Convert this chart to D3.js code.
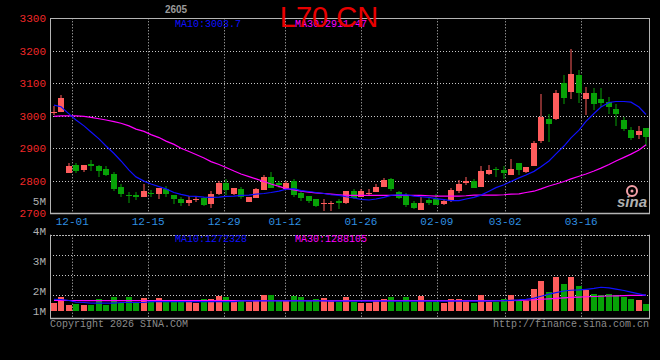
<!DOCTYPE html>
<html>
<head>
<meta charset="utf-8">
<script src="https://cdn.jsdelivr.net/npm/d3@7"></script>
<style>
  body { margin: 0; background: #000; }
  svg { display: block; background: #000; }
  text { font-family: "Liberation Mono", "DejaVu Sans Mono", monospace; font-size: 10px; }
</style>
</head>
<body>
<svg id="chart" width="660" height="360"></svg>
<script>
/* global d3 */

// trading days shown (MM-DD)
const dates = [
  '11-26','11-27','11-28',
  '12-01','12-02','12-03','12-04','12-05','12-08','12-09','12-10','12-11','12-12',
  '12-15','12-16','12-17','12-18','12-19','12-22','12-23','12-24','12-25','12-26',
  '12-29','12-30','12-31',
  '01-05','01-06','01-07','01-08','01-09','01-12','01-13','01-14','01-15','01-16',
  '01-19','01-20','01-21','01-22','01-23','01-26','01-27','01-28','01-29','01-30',
  '02-02','02-03','02-04','02-05','02-06','02-09','02-10','02-11','02-12','02-13',
  '02-24','02-25','02-26','02-27',
  '03-02','03-03','03-04','03-05','03-06','03-09','03-10','03-11','03-12','03-13',
  '03-16','03-17','03-18','03-19','03-20','03-23','03-24','03-25','03-26','03-27'
];

const open = [
  3011,3013,2825,2850,2835,2851,2845,2835,2821,2781,
  2755,2756,2750,2762,2762,2774,2756,2744,2733,2743,
  2746,2727,2757,2794,2761,2776,2735,2747,2772,2813,
  2792,2776,2799,2761,2753,2745,2730,2729,2737,2733,
  2770,2753,2763,2766,2782,2806,2766,2755,2733,2710,
  2741,2745,2727,2739,2768,2794,2800,2780,2821,2835,
  2833,2819,2854,2827,2846,2923,2989,2991,3100,3073,
  3127,3053,3069,3051,3043,3020,2987,2956,2942,2963
];
const high = [
  3030,3064,2856,2856,2849,2864,2848,2845,2828,2790,
  2767,2767,2790,2772,2779,2784,2756,2749,2753,2749,
  2749,2768,2798,2806,2778,2780,2751,2778,2817,2827,
  2799,2799,2805,2765,2753,2745,2745,2739,2743,2770,
  2776,2776,2774,2790,2809,2809,2768,2762,2739,2749,
  2747,2758,2743,2778,2803,2811,2806,2845,2848,2843,
  2846,2868,2856,2843,2923,3067,3006,3079,3127,3206,
  3141,3090,3086,3086,3057,3036,2995,2965,2969,2963
];
const low = [
  3001,3012,2825,2825,2828,2830,2811,2816,2768,2751,
  2733,2741,2749,2749,2745,2749,2729,2723,2723,2735,
  2722,2716,2757,2757,2755,2745,2735,2747,2772,2778,
  2778,2774,2751,2739,2731,2718,2708,2708,2712,2729,
  2743,2753,2755,2766,2782,2770,2743,2718,2712,2710,
  2726,2726,2727,2735,2763,2788,2778,2780,2817,2813,
  2805,2819,2817,2823,2846,2917,2919,2987,3036,3053,
  3040,3002,3018,3028,3006,2969,2954,2926,2930,2907
];
const close = [
  3013,3056,2845,2833,2849,2846,2831,2818,2775,2759,
  2751,2749,2769,2759,2779,2759,2744,2733,2741,2744,
  2726,2759,2792,2772,2778,2751,2751,2776,2813,2780,
  2786,2793,2757,2747,2737,2723,2732,2733,2731,2770,
  2749,2770,2764,2782,2802,2774,2747,2723,2719,2733,
  2733,2726,2737,2772,2790,2800,2778,2829,2833,2831,
  2823,2837,2831,2843,2917,2997,2973,3071,3053,3129,
  3071,3071,3034,3040,3028,3006,2960,2930,2954,2936
];

// volume, millions
const volume = [
  0.66,1.14,0.50,0.56,0.50,0.50,0.97,0.50,1.14,0.66,
  1.14,0.66,1.06,0.78,1.06,0.78,0.78,0.78,0.89,0.66,
  0.97,0.97,1.22,1.14,0.89,0.89,0.72,0.78,1.31,1.31,
  0.89,0.89,1.22,1.14,0.89,0.97,1.06,0.89,0.75,1.14,
  0.75,0.64,0.64,0.81,0.97,1.14,0.75,1.14,0.75,1.22,
  0.75,0.75,0.64,0.97,0.97,0.89,0.64,1.31,0.75,0.75,
  0.97,1.31,0.81,0.81,1.80,2.47,1.55,2.80,2.22,2.80,
  2.05,1.75,1.39,1.31,1.39,1.31,1.14,0.97,0.89,0.56
];

const ma10 = [
  3033,3028,3006,2987,2969,2950,2929,2907,2884,2861,
  2833,2812,2799,2790,2782,2775,2764,2758,2753,2752,
  2750,2749,2750,2752,2753,2755,2756,2759,2761,2764,
  2768,2774,2776,2770,2767,2764,2761,2757,2755,2751,
  2747,2743,2741,2744,2749,2755,2757,2757,2753,2751,
  2749,2745,2742,2739,2739,2744,2749,2756,2768,2779,
  2788,2798,2809,2818,2829,2843,2861,2883,2907,2932,
  2956,2983,3007,3027,3041,3044,3044,3042,3027,3004
];
const ma30 = [
  2998,3000,3000,3000,2998,2995,2991,2987,2982,2977,
  2969,2959,2952,2942,2933,2922,2912,2900,2890,2881,
  2870,2859,2850,2841,2830,2821,2813,2806,2798,2790,
  2783,2776,2772,2768,2765,2763,2761,2759,2757,2755,
  2755,2755,2755,2755,2755,2755,2755,2755,2755,2755,
  2754,2753,2753,2753,2753,2754,2756,2756,2756,2756,
  2757,2759,2760,2764,2768,2775,2784,2790,2798,2806,
  2814,2821,2830,2839,2850,2861,2872,2882,2895,2911
];

const volMa10 = [
  0.95,0.93,0.85,0.72,0.68,0.63,0.63,0.63,0.63,0.68,
  0.68,0.68,0.68,0.76,0.76,0.76,0.76,0.76,0.76,0.76,
  0.76,0.76,0.76,0.76,0.76,0.82,0.82,0.82,0.82,0.82,
  0.82,0.82,0.82,0.82,0.82,0.82,0.82,0.80,0.80,0.80,
  0.80,0.80,0.80,0.80,0.80,0.80,0.80,0.80,0.80,0.80,
  0.80,0.80,0.80,0.80,0.80,0.80,0.80,0.80,0.80,0.82,
  0.83,0.86,0.90,0.95,1.05,1.20,1.38,1.50,1.64,1.70,
  1.73,1.78,1.85,1.95,1.90,1.80,1.68,1.55,1.40,1.27
];
const volMa30 = [
  0.86,0.86,0.85,0.85,0.84,0.84,0.83,0.83,0.83,0.83,
  0.83,0.83,0.83,0.83,0.83,0.83,0.83,0.83,0.83,0.83,
  0.83,0.83,0.83,0.83,0.83,0.83,0.83,0.83,0.83,0.83,
  0.83,0.83,0.83,0.83,0.83,0.83,0.83,0.83,0.83,0.83,
  0.83,0.83,0.83,0.83,0.83,0.83,0.83,0.83,0.83,0.83,
  0.83,0.83,0.83,0.83,0.83,0.83,0.83,0.83,0.83,0.83,
  0.83,0.84,0.86,0.88,0.91,0.95,0.99,1.03,1.07,1.10,
  1.13,1.16,1.18,1.20,1.22,1.24,1.25,1.27,1.28,1.29
];

// legend readouts as printed on the chart
const priceLegend = ['MA10:3003.7', 'MA30:2911.47'];
const volLegend = ['MA10:1272328', 'MA30:1288105'];

const tickDates = ['12-01','12-15','12-29','01-12','01-26','02-09','03-02','03-16'];
const priceTicks = [2700, 2800, 2900, 3000, 3100, 3200, 3300];
const volTicks = [1, 2, 3, 4, 5];

const PRICE = {left: 50, right: 650, top: 18.3, bottom: 213.3};
const VOL = {top: 234.7, bottom: 318.3, base: 310.7};
const VOL_GRID = [255.3, 275.3, 295.3];

const UP = '#ff5c5c';
const DOWN = '#07a107';
const GRID = '#c8c8c8';
const BORDER = '#b4b4b4';
const MA10_COL = '#1010ff';
const MA30_COL = '#ff00ff';

const $svg = d3.select('#chart');
const n = dates.length;

const x = d3.scaleBand()
  .domain(d3.range(n))
  .range([PRICE.left, PRICE.right])
  .paddingInner(0.2)
  .paddingOuter(0.1);
// the date grid runs on a slightly wider step than the candles
const xGrid = d3.scaleLinear().domain([0, n - 1]).range([49.5, 649.5]);
const yPrice = d3.scaleLinear().domain([2700, 3300]).range([PRICE.bottom, PRICE.top]);
const yVol = d3.scaleLinear().domain([0, 1]).range([VOL.base, VOL.base - 12.03]);
// volume labels are not evenly spaced on the original
const yVolLabel = d3.scaleLinear().domain([1, 2, 5]).range([311, 291, 201]);

const cx = i => Math.round(x(i) + x.bandwidth() / 2) - 0.5;
const crisp = v => Math.round(v) + 0.5;

// grid
const $grid = $svg.append('g').attr('class', 'grid');

$grid.selectAll('line.hgrid')
  .data(priceTicks.filter(d => d > 2700 && d < 3300))
  .join('line')
  .attr('class', 'hgrid')
  .attr('x1', PRICE.left).attr('x2', 649.5)
  .attr('y1', d => crisp(yPrice(d))).attr('y2', d => crisp(yPrice(d)))
  .attr('stroke', GRID).attr('stroke-dasharray', '1,2');

$grid.selectAll('line.vgrid')
  .data(VOL_GRID)
  .join('line')
  .attr('class', 'vgrid')
  .attr('x1', PRICE.left).attr('x2', 649.5)
  .attr('y1', d => crisp(d)).attr('y2', d => crisp(d))
  .attr('stroke', GRID).attr('stroke-dasharray', '1,2');

tickDates.forEach(t => {
  const gx = crisp(xGrid(dates.indexOf(t)));
  [[PRICE.top, PRICE.bottom], [VOL.top, VOL.bottom]].forEach(([a, b]) => {
    $grid.append('line')
      .attr('x1', gx).attr('x2', gx)
      .attr('y1', a).attr('y2', b)
      .attr('stroke', GRID).attr('stroke-dasharray', '1,2');
  });
});

// panel frames
function frame(top, bottom, dottedTop) {
  $grid.append('line')
    .attr('x1', 50.5).attr('x2', 50.5).attr('y1', top).attr('y2', bottom)
    .attr('stroke', BORDER);
  $grid.append('line')
    .attr('x1', 649.5).attr('x2', 649.5).attr('y1', top).attr('y2', bottom)
    .attr('stroke', BORDER);
  $grid.append('line')
    .attr('x1', 50).attr('x2', 650).attr('y1', crisp(top)).attr('y2', crisp(top))
    .attr('stroke', BORDER)
    .attr('stroke-dasharray', dottedTop ? '2,1' : null);
  $grid.append('line')
    .attr('x1', 50).attr('x2', 650).attr('y1', crisp(bottom)).attr('y2', crisp(bottom))
    .attr('stroke', BORDER).attr('stroke-width', 1.5);
}
frame(PRICE.top, PRICE.bottom, false);
frame(VOL.top, VOL.bottom, true);

// sina watermark
const $logo = $svg.append('g').attr('class', 'logo');
$logo.append('circle')
  .attr('cx', 632).attr('cy', 191).attr('r', 5)
  .attr('fill', 'none').attr('stroke', '#f4a0a8').attr('stroke-width', 2);
$logo.append('circle')
  .attr('cx', 632).attr('cy', 191).attr('r', 1.5)
  .attr('fill', '#f4a0a8');
$logo.append('text')
  .attr('x', 617).attr('y', 207)
  .style('font-family', '"Liberation Sans", Arial, sans-serif')
  .style('font-size', '15px').style('font-style', 'italic').style('font-weight', 'bold')
  .attr('fill', '#d0d0d0').attr('opacity', 0.85)
  .text('sina');

// candles
const $candles = $svg.append('g').attr('class', 'candles');
const idx = d3.range(n);
const colour = i => close[i] >= open[i] ? UP : DOWN;

$candles.selectAll('line.wick')
  .data(idx)
  .join('line')
  .attr('class', 'wick')
  .attr('x1', i => cx(i) + 0.5).attr('x2', i => cx(i) + 0.5)
  .attr('y1', i => Math.round(yPrice(high[i])))
  .attr('y2', i => Math.round(yPrice(low[i])))
  .attr('stroke', colour);

$candles.selectAll('rect.body')
  .data(idx)
  .join('rect')
  .attr('class', 'body')
  .attr('x', i => Math.round(x(i)))
  .attr('width', Math.round(x.bandwidth()))
  .attr('y', i => Math.round(yPrice(Math.max(open[i], close[i]))))
  .attr('height', i => Math.max(1, Math.round(Math.abs(yPrice(open[i]) - yPrice(close[i])))))
  .attr('fill', colour)
  .attr('shape-rendering', 'crispEdges');

// volume bars
$svg.append('g').attr('class', 'volume')
  .selectAll('rect')
  .data(idx)
  .join('rect')
  .attr('x', i => Math.round(x(i)))
  .attr('width', Math.round(x.bandwidth()))
  .attr('y', i => Math.round(yVol(volume[i])))
  .attr('height', i => Math.round(VOL.base) - Math.round(yVol(volume[i])))
  .attr('fill', colour)
  .attr('shape-rendering', 'crispEdges');

// moving averages
function maLine(values, scale, stroke) {
  const line = d3.line()
    .x((d, i) => cx(i) + 0.5)
    .y(d => scale(d));
  $svg.append('path')
    .datum(values)
    .attr('d', line)
    .attr('fill', 'none')
    .attr('stroke', stroke)
    .attr('stroke-width', 1.2);
}
maLine(ma30, yPrice, MA30_COL);
maLine(ma10, yPrice, MA10_COL);
maLine(volMa30, yVol, MA30_COL);
maLine(volMa10, yVol, MA10_COL);

// axis labels
const $labels = $svg.append('g').attr('class', 'labels');

$labels.selectAll('text.ptick')
  .data(priceTicks)
  .join('text')
  .attr('class', 'ptick')
  .attr('x', 46).attr('y', d => yPrice(d))
  .attr('dy', '0.35em')
  .attr('text-anchor', 'end')
  .attr('fill', '#f02828')
  .style('font-size', '11px')
  .text(d => d);

$labels.selectAll('text.vtick')
  .data(volTicks)
  .join('text')
  .attr('class', 'vtick')
  .attr('x', 46).attr('y', d => yVolLabel(d))
  .attr('dy', '0.35em')
  .attr('text-anchor', 'end')
  .attr('fill', '#b0b0b0')
  .style('font-size', '11px')
  .text(d => `${d}M`);

$labels.selectAll('text.xtick')
  .data(tickDates)
  .join('text')
  .attr('class', 'xtick')
  .attr('x', d => xGrid(dates.indexOf(d)))
  .attr('y', 225)
  .attr('text-anchor', 'middle')
  .attr('fill', '#2f8fe0')
  .style('font-size', '11px')
  .text(d => d);

// legends
[[priceLegend, 27], [volLegend, 242]].forEach(([items, ly]) => {
  $labels.append('text')
    .attr('x', 175).attr('y', ly)
    .attr('fill', MA10_COL)
    .text(items[0]);
  $labels.append('text')
    .attr('x', 295).attr('y', ly)
    .attr('fill', MA30_COL)
    .text(items[1]);
});

// title and stamps
$labels.append('text')
  .attr('x', 329).attr('y', 27)
  .attr('text-anchor', 'middle')
  .attr('fill', '#e80000')
  .style('font-family', '"Liberation Sans", Arial, sans-serif')
  .style('font-size', '29px')
  .text('L70 CN');

$labels.append('text')
  .attr('x', 176).attr('y', 13)
  .attr('text-anchor', 'middle')
  .attr('fill', '#9a9a9a')
  .style('font-family', '"Liberation Sans", Arial, sans-serif')
  .style('font-size', '10px').style('font-weight', 'bold')
  .text('2605');

$labels.append('text')
  .attr('x', 50).attr('y', 327)
  .attr('fill', '#8c8c8c')
  .style('font-size', '10px')
  .text('Copyright 2026 SINA.COM');

$labels.append('text')
  .attr('x', 649).attr('y', 327)
  .attr('text-anchor', 'end')
  .attr('fill', '#8c8c8c')
  .style('font-size', '10px')
  .text('http://finance.sina.com.cn');
</script>
</body>
</html>
